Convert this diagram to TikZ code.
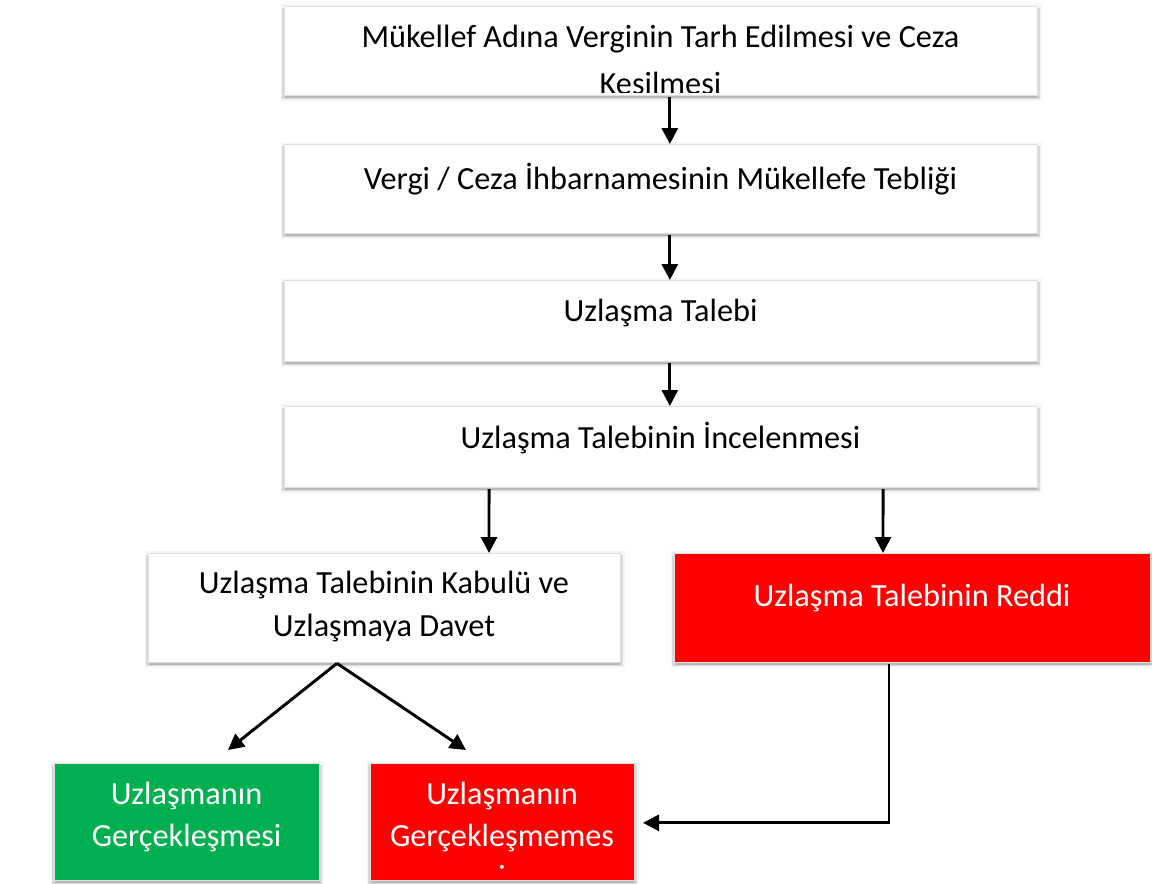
\documentclass[tikz,border=0pt]{standalone}
\usepackage{fontspec}
\setmainfont{Carlito}
\usetikzlibrary{arrows.meta}
\definecolor{bred}{HTML}{FF0000}
\definecolor{bgreen}{HTML}{00B050}
\newcommand\shbox[6]{%
  \fill[gray!7] (#2-3,#3-2) rectangle (#4+5,#5+6);
  \fill[gray!30] (#2-2,#3+2) rectangle (#4+3,#5+4);
  \fill[gray!55] (#2+1,#5) rectangle (#4+1,#5+3);
  \node[boxsty, fill=#6, minimum width={(#4-#2)*0.75pt}, minimum height={(#5-#3)*0.75pt}] (#1) at ({(#2+#4)/2},{(#3+#5)/2}) {};
}
\begin{document}
\begin{tikzpicture}[x=0.75pt,y=-0.75pt,
  boxsty/.style={draw=gray!25, line width=0.5pt, inner sep=0pt, outer sep=0pt},
  txt/.style={anchor=base, inner sep=0pt, font=\fontsize{24.2}{32}\selectfont},
  wtxt/.style={txt, text=white},
  arr/.style={line width=2.2pt, -{Triangle[length=12pt,width=12pt]}}]
\fill[white] (0,0) rectangle (1152,883);
\useasboundingbox (0,0) rectangle (1152,883);

\shbox{b1}{284}{6}{1037}{95}{white}
\shbox{b2}{284}{144}{1037}{233}{white}
\shbox{b3}{284}{280}{1037}{361}{white}
\shbox{b4}{284}{406}{1037}{487}{white}
\shbox{b5}{148}{553}{620}{662}{white}
\shbox{b6}{674}{553}{1150}{662}{bred}
\shbox{b7}{54}{763}{319}{880}{bgreen}
\shbox{b8}{370}{763}{634}{880}{bred}

\node[txt] (t1a) at (660.5,47) {Mükellef Adına Verginin Tarh Edilmesi ve Ceza};
\begin{scope}
  \clip (285,7) rectangle (1036,92);
  \node[txt] (t1b) at (660.5,94) {Kesilmesi};
\end{scope}
\node[txt] (t2) at (660.5,189) {Vergi / Ceza İhbarnamesinin Mükellefe Tebliği};
\node[txt] (t3) at (660.5,321) {Uzlaşma Talebi};
\node[txt] (t4) at (660.5,448) {Uzlaşma Talebinin İncelenmesi};
\node[txt] (t5a) at (384,593) {Uzlaşma Talebinin Kabulü ve};
\node[txt] (t5b) at (384,636) {Uzlaşmaya Davet};
\node[wtxt] (t6) at (912,606) {Uzlaşma Talebinin Reddi};
\node[wtxt] (t7a) at (186.5,804) {Uzlaşmanın};
\node[wtxt] (t7b) at (186.5,846) {Gerçekleşmesi};
\node[wtxt] (t8a) at (502,804) {Uzlaşmanın};
\node[wtxt] (t8b) at (502,846) {Gerçekleşmemes};
\begin{scope}
  \clip (370,763) rectangle (634,870);
  \node[wtxt] (t8c) at (502,887) {i};
\end{scope}

\draw[arr] ([xshift=7pt,yshift=-1.5pt]b1.south) -- ([xshift=7pt]b2.north);
\draw[arr] ([xshift=7pt,yshift=-1.5pt]b2.south) -- ([xshift=7pt]b3.north);
\draw[arr] ([xshift=7pt,yshift=-1.5pt]b3.south) -- ([xshift=7pt]b4.north);
\draw[arr] ([xshift=-128.6pt,yshift=-1.5pt]b4.south) -- ([xshift=78.75pt]b5.north);
\draw[arr] ([xshift=166.9pt,yshift=-1.5pt]b4.south) -- ([xshift=-21.75pt]b6.north);
\draw[arr] ([xshift=-35.25pt,yshift=-1pt]b5.south) -- ([xshift=31.1pt,yshift=9.75pt]b7.north);
\draw[arr] ([xshift=-35.25pt,yshift=-1pt]b5.south) -- ([xshift=-27pt,yshift=9.75pt]b8.north);
\draw[arr] ([xshift=-17.25pt,yshift=-1.5pt]b6.south) |- ([xshift=6.75pt,yshift=-1pt]b8.east);
\end{tikzpicture}
\end{document}
